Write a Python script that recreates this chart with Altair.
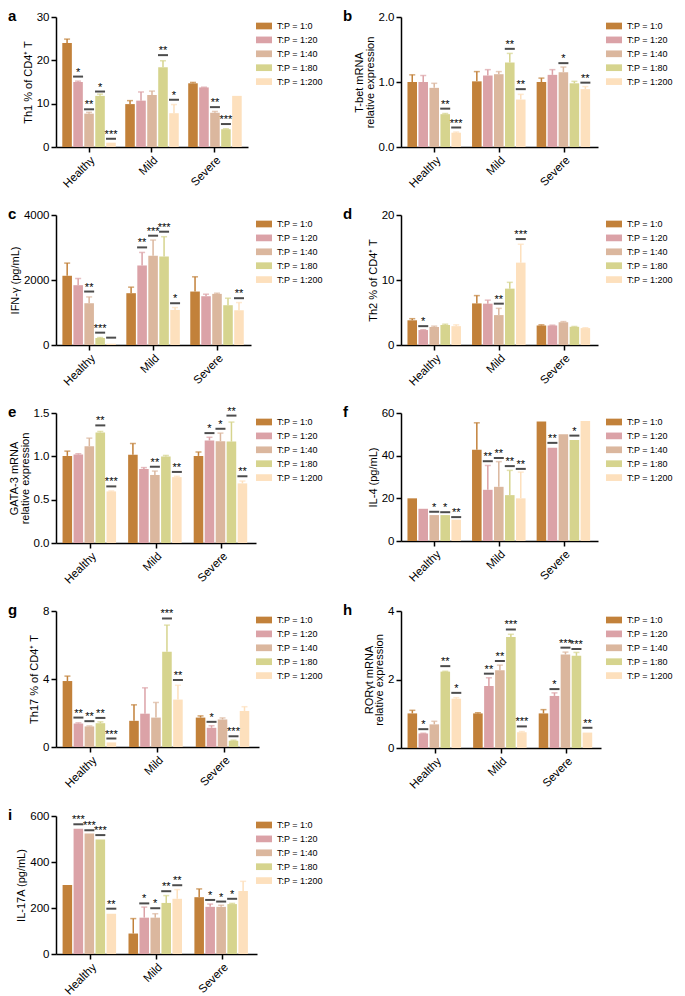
import altair as alt
import pandas as pd

GROUPS = ["Healthy", "Mild", "Severe"]
RATIOS = ["T:P = 1:0", "T:P = 1:20", "T:P = 1:40", "T:P = 1:80", "T:P = 1:200"]
COLORS = ["#C2813A", "#DBA2A7", "#DBB79E", "#D6D48E", "#FDE0BD"]

# values ordered Healthy(5 ratios), Mild(5), Severe(5)
A_MEAN = [24.0, 15.0, 7.7, 11.8, 1.0, 9.9, 10.7, 12.0, 18.4, 7.8, 14.7, 13.75, 7.9, 4.1, 11.8]
A_UPPER = [24.9, 15.2, 8.0, 12.2, 1.0, 10.7, 12.7, 12.9, 19.9, 9.8, 14.9, 13.8, 8.2, 4.2, 11.8]
A_SIG = [None, 16.25, 8.7, 12.8, 1.9, None, None, None, 21.2, 10.9, None, None, 9.2, 5.3, None]
A_STAR = ["", "*", "**", "*", "***", "", "", "", "**", "*", "", "", "**", "***", ""]

B_MEAN = [1.0, 1.0, 0.91, 0.505, 0.22, 1.01, 1.1, 1.12, 1.3, 0.73, 1.0, 1.11, 1.15, 0.98, 0.89]
B_UPPER = [1.11, 1.1, 0.98, 0.515, 0.23, 1.16, 1.19, 1.16, 1.44, 0.81, 1.06, 1.19, 1.23, 1.01, 0.93]
B_SIG = [None, None, None, 0.59, 0.30, None, None, None, 1.51, 0.89, None, None, 1.29, None, 0.99]
B_STAR = ["", "", "", "**", "***", "", "", "", "**", "**", "", "", "*", "", "**"]

C_MEAN = [2130, 1840, 1285, 216, 40, 1594, 2447, 2746, 2725, 1080, 1645, 1501, 1573, 1224, 1069]
C_UPPER = [2520, 2046, 1480, 230, 40, 1780, 2848, 3229, 3332, 1152, 2098, 1563, 1594, 1440, 1306]
C_SIG = [None, None, 1645, 380, 226, None, 3003, 3363, 3486, 1285, None, None, None, None, 1440]
C_STAR = ["", "", "**", "***", "", "", "**", "***", "***", "*", "", "", "", "", "**"]

D_MEAN = [3.8, 2.3, 2.77, 3.08, 2.9, 6.4, 6.36, 4.6, 8.67, 12.67, 3.0, 3.0, 3.5, 2.8, 2.6]
D_UPPER = [4.05, 2.35, 2.9, 3.2, 3.1, 7.6, 6.9, 5.64, 9.64, 15.5, 3.1, 3.05, 3.6, 2.85, 2.65]
D_SIG = [None, 2.9, None, None, None, None, None, 6.36, None, 16.3, None, None, None, None, None]
D_STAR = ["", "*", "", "", "", "", "", "**", "", "***", "", "", "", "", ""]

E_MEAN = [1.005, 1.02, 1.117, 1.276, 0.595, 1.017, 0.854, 0.785, 0.997, 0.76, 1.005, 1.183, 1.175, 1.17, 0.688]
E_UPPER = [1.06, 1.03, 1.21, 1.287, 0.6, 1.148, 0.87, 0.83, 1.01, 0.77, 1.05, 1.22, 1.268, 1.395, 0.715]
E_SIG = [None, None, None, 1.357, 0.653, None, None, 0.88, None, 0.82, None, 1.268, 1.318, 1.47, 0.77]
E_STAR = ["", "", "", "**", "***", "", "", "**", "", "**", "", "*", "*", "**", "**"]

F_MEAN = [20, 15.1, 12.15, 12.15, 10, 42.8, 24, 25.4, 21.5, 20, 56, 43.7, 50, 47.4, 56.2]
F_UPPER = [20, 15.1, 12.15, 12.15, 10, 55.4, 35.4, 37.2, 33.1, 32.3, 56, 43.7, 50, 47.4, 56.2]
F_SIG = [None, None, 13.7, 13.5, 11.2, None, 37.4, 38.9, 35.1, 33.8, None, 46, None, 49.4, None]
F_STAR = ["", "", "*", "*", "**", "", "**", "**", "**", "**", "", "**", "", "*", ""]

G_MEAN = [3.88, 1.38, 1.21, 1.4, 0.27, 1.54, 1.96, 1.73, 5.6, 2.79, 1.73, 1.13, 1.62, 0.37, 2.12]
G_UPPER = [4.17, 1.42, 1.24, 1.48, 0.27, 2.48, 3.48, 2.62, 7.17, 3.63, 1.83, 1.25, 1.71, 0.4, 2.37]
G_SIG = [None, 1.73, 1.52, 1.71, 0.5, None, None, None, 7.56, 3.94, None, 1.48, None, 0.63, None]
G_STAR = ["", "**", "**", "**", "***", "", "", "", "***", "**", "", "*", "", "***", ""]

H_MEAN = [1.01, 0.42, 0.69, 2.23, 1.44, 1.01, 1.81, 2.27, 3.24, 0.46, 1.01, 1.52, 2.73, 2.69, 0.45]
H_UPPER = [1.1, 0.43, 0.78, 2.24, 1.47, 1.03, 2.05, 2.42, 3.32, 0.48, 1.12, 1.61, 2.8, 2.79, 0.45]
H_SIG = [None, 0.55, None, 2.39, 1.61, None, 2.17, 2.54, 3.46, 0.63, None, 1.72, 2.93, 2.89, 0.59]
H_STAR = ["", "*", "", "**", "*", "", "**", "**", "***", "***", "", "*", "***", "***", "**"]

I_MEAN = [300, 545, 524, 498, 175, 89, 158, 158, 222, 240, 247, 205, 205, 217, 274]
I_UPPER = [300, 545, 524, 498, 175, 154, 204, 175, 254, 280, 283, 217, 212, 220, 316]
I_SIG = [None, 564, 538, 517, 197, None, 220, 199, 273, 299, None, 235, 228, 240, None]
I_STAR = ["", "***", "***", "***", "**", "", "*", "*", "**", "**", "", "*", "*", "*", ""]

FONT = "Liberation Sans"


def panel(letter, mean, upper, sig, star, title, domain, ticks, fmt,
          width, height, letter_dx, legend_offset):
    rows = []
    for gi, g in enumerate(GROUPS):
        for ri, r in enumerate(RATIOS):
            k = gi * 5 + ri
            rows.append(dict(group=g, ratio=r, mean=mean[k], upper=upper[k],
                             sig=sig[k], star=star[k], hex=COLORS[ri]))
    df = pd.DataFrame(rows)
    x = alt.X("group:N", sort=GROUPS,
              scale=alt.Scale(paddingInner=0.15, paddingOuter=0.1),
              axis=alt.Axis(title=None, labelAngle=-45))
    xo = alt.XOffset("ratio:N", sort=RATIOS,
                     scale=alt.Scale(paddingInner=0.13, paddingOuter=0))
    yscale = alt.Scale(domain=domain, nice=False, zero=True)
    base = alt.Chart(df)
    bars = base.mark_bar().encode(
        x=x, xOffset=xo,
        y=alt.Y("mean:Q", scale=yscale,
                axis=alt.Axis(values=ticks, format=fmt, title=title,
                              titlePadding=3, titleLineHeight=10.5)),
        color=alt.Color("ratio:N", sort=RATIOS,
                        scale=alt.Scale(domain=RATIOS, range=COLORS),
                        legend=alt.Legend(title=" ", offset=legend_offset)),
    )
    with_err = base.transform_filter("datum.upper > datum.mean")
    err = with_err.mark_rule(strokeWidth=1.5).encode(
        x=x, xOffset=xo, y="mean:Q", y2="upper:Q",
        color=alt.Color("hex:N", scale=None))
    cap = with_err.mark_tick(thickness=1.5, size=6).encode(
        x=x, xOffset=xo, y="upper:Q", color=alt.Color("hex:N", scale=None))
    with_sig = base.transform_filter("isValid(datum.sig)")
    sigline = with_sig.mark_tick(color="black", thickness=2, size=10).encode(
        x=x, xOffset=xo, y="sig:Q")
    stars = with_sig.mark_text(fontSize=11, baseline="alphabetic", dy=-1,
                               font=FONT, color="black").encode(
        x=x, xOffset=xo, y="sig:Q", text="star:N")
    lab = alt.Chart(pd.DataFrame({"t": [letter]})).mark_text(
        align="left", baseline="middle", fontSize=15, fontWeight="bold",
        font=FONT, color="black").encode(
        x=alt.value(letter_dx), y=alt.value(-1), text="t:N")
    return alt.layer(bars, err, cap, sigline, stars, lab).properties(
        width=width, height=height)


CD4 = "of CD4\u207a T"
L1, L2 = -48, -58
pa = panel("a", A_MEAN, A_UPPER, A_SIG, A_STAR, "Th1 % " + CD4, [0, 30], [0, 10, 20, 30], "d", 192, 130, L1, 11)
pb = panel("b", B_MEAN, B_UPPER, B_SIG, B_STAR, ["T-bet mRNA", "relative expression"], [0, 2], [0, 0.5, 1, 1.5, 2], ".1f", 197, 130, L2, 11)
pc = panel("c", C_MEAN, C_UPPER, C_SIG, C_STAR, "IFN-\u03b3 (pg/mL)", [0, 4000], [0, 1000, 2000, 3000, 4000], "d", 195, 130, L1, 8)
pd_ = panel("d", D_MEAN, D_UPPER, D_SIG, D_STAR, "Th2 % " + CD4, [0, 20], [0, 5, 10, 15, 20], "d", 197, 130, L2, 11)
pe = panel("e", E_MEAN, E_UPPER, E_SIG, E_STAR, ["GATA-3 mRNA", "relative expression"], [0, 1.5], [0, 0.5, 1, 1.5], ".1f", 200, 130, L1, 3)
pf = panel("f", F_MEAN, F_UPPER, F_SIG, F_STAR, "IL-4 (pg/mL)", [0, 60], [0, 20, 40, 60], "d", 197, 128, L2, 11)
pg = panel("g", G_MEAN, G_UPPER, G_SIG, G_STAR, "Th17 % " + CD4, [0, 8], [0, 2, 4, 6, 8], "d", 203, 136, L1, 0)
ph = panel("h", H_MEAN, H_UPPER, H_SIG, H_STAR, ["ROR\u03b3t mRNA", "relative expression"], [0, 4], [0, 1, 2, 3, 4], "d", 200, 137, L2, 8)
pi = panel("i", I_MEAN, I_UPPER, I_SIG, I_STAR, "IL-17A (pg/mL)", [0, 600], [0, 200, 400, 600], "d", 201, 138, L1, 2)

chart = alt.concat(
    pa, pb, pc, pd_, pe, pf, pg, ph, pi,
    columns=2, align="none",
    spacing=alt.RowColnumber(row=17, column=20),
).resolve_scale(color="independent").resolve_legend(color="independent").properties(
    padding={"left": 0, "top": 1, "right": 0, "bottom": 0}
).configure_view(stroke=None).configure_axis(
    labelFont=FONT, titleFont=FONT, labelFontSize=11.5, titleFontSize=11,
    titleFontWeight="normal", labelColor="black", titleColor="black",
    domainColor="black", tickColor="black", domainWidth=1.5, tickWidth=1.5,
    tickSize=5, grid=False, labelPadding=2,
).configure_legend(
    labelFont=FONT, labelFontSize=9, labelColor="black",
    titleFontSize=3, titlePadding=1,
    symbolType="M-1.6,-0.67H1.6V0.67H-1.6Z", symbolSize=100, symbolStrokeWidth=0,
    symbolOpacity=1, rowPadding=3.9, labelOffset=8, padding=0,
)

chart.save("out.html", embed_options={"renderer": "svg", "actions": False})
